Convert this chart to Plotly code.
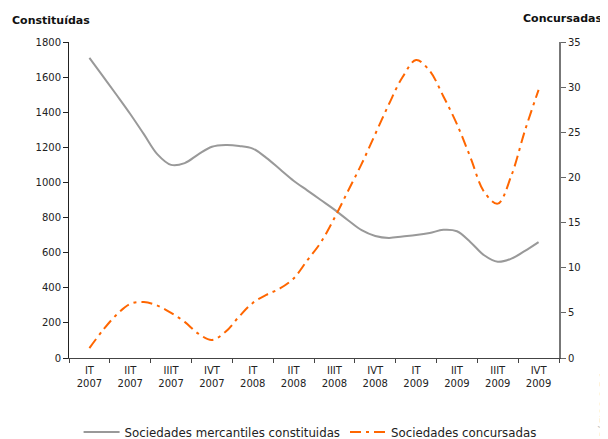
import plotly.graph_objects as go

# trimestres (etiquetas del eje X)
quarters = ["IT<br>2007", "IIT<br>2007", "IIIT<br>2007", "IVT<br>2007",
            "IT<br>2008", "IIT<br>2008", "IIIT<br>2008", "IVT<br>2008",
            "IT<br>2009", "IIT<br>2009", "IIIT<br>2009", "IVT<br>2009"]

# serie mensual: posición en trimestres (0 = IT 2007)
months = [m / 3 for m in range(34)]

constituidas = [1710, 1604, 1498, 1390, 1275, 1160, 1100, 1110, 1160, 1203,
                1213, 1208, 1193, 1140, 1075, 1010, 955, 900, 845, 785,
                728, 695, 684, 692, 700, 712, 730, 722, 660, 585,
                548, 566, 610, 660]

concursadas = [1.1, 3.1, 4.8, 6.0, 6.2, 5.8, 5.0, 4.0, 2.7, 2.0,
               2.9, 4.6, 6.1, 7.0, 7.7, 8.8, 10.8, 12.8, 15.5, 18.5,
               21.5, 24.8, 28.1, 31.1, 33.0, 31.8, 29.0, 25.9, 22.2, 18.4,
               17.1, 20.2, 25.2, 29.7]

FONT = "DejaVu Sans, Verdana, sans-serif"

fig = go.Figure()
fig.add_trace(go.Scatter(
    x=months, y=constituidas, mode="lines", line_shape="spline",
    name="Sociedades mercantiles constituidas",
    line=dict(color="#999999", width=2)))
fig.add_trace(go.Scatter(
    x=months, y=concursadas, mode="lines", line_shape="spline",
    name="Sociedades concursadas", yaxis="y2",
    line=dict(color="#FF6600", width=2, dash="11px,5px,3px,5px")))

# la página html añade 8px de margen: figura de 600x431
fig.update_layout(
    width=600, height=431,
    margin=dict(l=61, r=49, t=34, b=81, autoexpand=False),
    paper_bgcolor="white", plot_bgcolor="white",
    font=dict(family=FONT, size=10, color="#222222"),
    showlegend=True,
    legend=dict(orientation="h", x=0.492, xanchor="center",
                yref="container", y=0.016, yanchor="middle",
                font=dict(size=11.8, color="#222222"), tracegroupgap=0,
                itemwidth=36),
    xaxis=dict(range=[-0.5, 11.5], tickmode="array", tickvals=list(range(12)),
               ticktext=quarters, ticks="", showgrid=False, zeroline=False,
               showline=True, linecolor="#444444", linewidth=1,
               ticklabelstandoff=3,
               minor=dict(tickmode="linear", tick0=-0.5, dtick=1, ticks="outside",
                          ticklen=4, tickcolor="#444444", showgrid=False),
               tickfont=dict(size=10)),
    yaxis=dict(range=[0, 1800], dtick=200, ticks="outside", ticklen=5,
               tickcolor="#222222", showline=True, linecolor="#222222",
               linewidth=1, showgrid=False, zeroline=False,
               tickfont=dict(size=10)),
    yaxis2=dict(range=[0, 35], dtick=5, overlaying="y", side="right",
                ticks="outside", ticklen=5, tickcolor="#666666",
                showline=True, linecolor="#777777", linewidth=2,
                showgrid=False, zeroline=False, tickfont=dict(size=10)),
)

fig.add_annotation(text="<b>Constituídas</b>", xref="paper", yref="paper",
                   x=-0.12, y=1.04, xanchor="left", yanchor="bottom",
                   showarrow=False, font=dict(size=11, color="#111111"))
fig.add_annotation(text="<b>Concursadas</b>", xref="paper", yref="paper",
                   x=1.094, y=1.047, xanchor="right", yanchor="bottom",
                   showarrow=False, font=dict(size=11, color="#111111"))
fig.add_annotation(text="GRÁFICO 2.5.1", xref="paper", yref="paper",
                   x=1.075, y=-0.28, xanchor="left", yanchor="bottom",
                   textangle=-90, showarrow=False,
                   font=dict(size=10, color="#999999"))

fig.write_html("out.html")
